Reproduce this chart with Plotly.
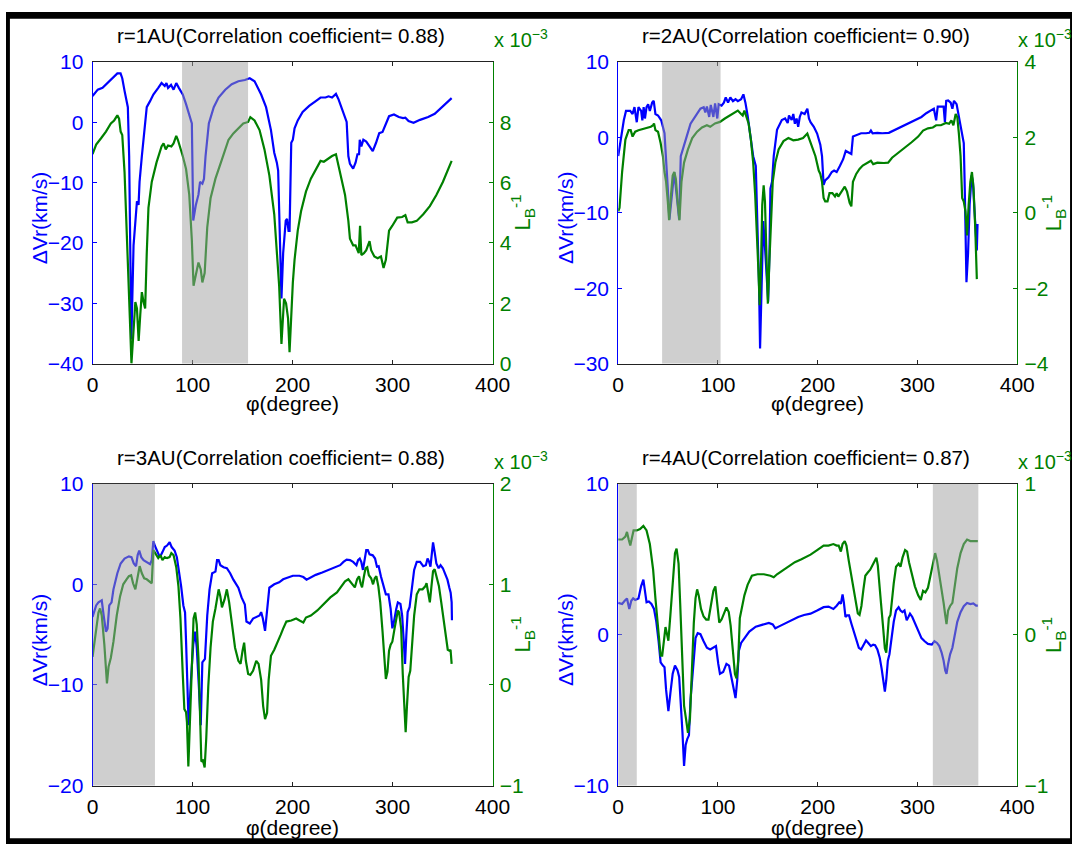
import plotly.graph_objects as go

# ---------------- data (phi in degrees, dVr in km/s, L_B^-1 in units of 1e-3) ----------------
titles = ["r=1AU(Correlation coefficient= 0.88)", "r=2AU(Correlation coefficient= 0.90)",
          "r=3AU(Correlation coefficient= 0.88)", "r=4AU(Correlation coefficient= 0.87)"]

left_ranges = [(-40, 10), (-30, 10), (-20, 10), (-10, 10)]
left_ticks = [[-40, -30, -20, -10, 0, 10], [-30, -20, -10, 0, 10], [-20, -10, 0, 10], [-10, 0, 10]]
right_ranges = [(0, 10), (-4, 4), (-1, 2), (-1, 1)]
right_ticks = [[0, 2, 4, 6, 8], [-4, -2, 0, 2, 4], [-1, 0, 1, 2], [-1, 0, 1]]
x_ticks = [0, 100, 200, 300, 400]
shaded = [[(89.5, 155.5)], [(44, 102.6)], [(0, 62.4)], [(0, 18.6), (315.4, 361)]]

dvr1 = [(0,4.35),(5.2,5.4),(10,5.7),(15,6.5),(18.3,7.0),(21.6,7.6),(24.8,8.1),(28,8.1),(29.7,7.3),(32,5.2),(34,3.5),(35.3,2.5),(36.6,-5.6),(38,-27),(38.8,-36),(41,-20.4),(43.8,-14.2),(44.4,-13.1),(46,-13.7),(47,-9.9),(49.3,-5.6),(54.2,2.5),(57.5,3.5),(60.8,4.6),(65.7,5.7),(69,6.5),(72.2,6.0),(73.9,6.5),(75.5,5.7),(78.5,6.2),(81,5.4),(83.7,6.5),(86.3,5.7),(90.2,4.6),(93.5,3.0),(97.4,0.6),(99.3,-0.2),(100.7,-16.3),(103.3,-13.7),(105.9,-12),(107.5,-9.9),(109.8,-10.2),(111.4,-9.4),(113,-5.6),(116.3,-0.2),(121.2,2.5),(126,4.1),(132.7,5.4),(139.2,6.3),(145.8,6.8),(152.3,7.0),(157.2,7.3),(162,6.8),(168.6,4.6),(173.5,2.5),(178.4,-1.3),(181.7,-5.05),(184.3,-6.7),(185.6,-8.0),(188.9,-29.2),(190.6,-21.7),(193.2,-16.3),(194.5,-16.0),(196,-18),(197,-18),(198.7,-3.4),(200.3,-2.9),(202,-1.0),(205.2,0.3),(210.1,1.7),(216.6,2.7),(223.2,3.5),(228,4.1),(233,4.1),(236,4.3),(239.5,4.1),(243.4,4.7),(246,3.8),(250.9,1.4),(254.1,0.05),(255.8,-5.6),(257.4,-6.9),(260.6,-7.7),(263,-6.7),(264.9,-5.3),(266.5,-5.3),(267.2,-2.9),(268.8,-4.0),(270.8,-2.9),(273.7,-3.2),(277,-4.0),(280.2,-4.8),(283.5,-3.4),(286.7,-1.8),(290,-1.6),(293.3,-0.2),(296.5,1.0),(301.4,1.3),(306.3,0.86),(310.5,0.7),(312.8,0.75),(316,0.2),(321,-0.1),(327.5,0.4),(335.6,0.86),(342.2,1.4),(348.7,2.4),(353.6,3.1),(359.1,4.0)]

lb1 = [(0,6.94),(3.6,7.26),(8.5,7.47),(13.4,7.69),(18.3,7.96),(21.6,8.06),(24.8,8.23),(26.5,8.12),(28.1,7.69),(29.7,7.58),(32,6.34),(34.6,4.19),(37.3,1.5),(38.9,0),(40.5,0.86),(42.8,2.04),(44.4,1.83),(46.1,0.75),(47.7,1.61),(49.3,2.37),(51,2.04),(52.6,1.83),(54.2,3.66),(55.9,5.16),(59.2,6.02),(64,6.67),(69,7.2),(71,7.3),(73.2,7.1),(75.5,7.23),(78.8,7.2),(81,7.3),(83.7,7.55),(85.3,7.42),(90.2,6.88),(93.5,6.45),(96.7,5.6),(99.3,4.09),(101,2.58),(103.3,2.9),(105.9,3.35),(108.2,3.12),(109.8,2.69),(112.1,3.0),(114.7,4.52),(118,5.48),(122.9,6.13),(129.4,6.77),(136,7.42),(140.8,7.63),(145.8,7.8),(150.7,7.96),(155.6,8.01),(157.8,8.17),(162,8.06),(167,7.74),(171.9,7.1),(176.8,6.24),(181.7,4.95),(186.6,2.58),(188.9,0.65),(190,1.5),(191.5,2.15),(193.5,2.0),(195.5,1.5),(197,0.38),(198.7,1.72),(200.3,2.69),(202,3.44),(205.2,4.41),(208.5,5.05),(213.4,5.7),(218.3,6.13),(223.2,6.45),(228,6.72),(231.3,6.69),(234.6,6.77),(239.5,6.88),(243.4,6.94),(245.3,6.67),(248.6,6.24),(252.5,5.59),(255.8,4.73),(257.4,4.14),(260.6,3.92),(263,3.92),(264.9,3.76),(266.2,3.66),(267.5,4.57),(268.8,3.6),(271.4,3.66),(273.7,3.76),(277,4.06),(278.6,3.76),(281.8,3.55),(285.1,3.49),(288.4,3.55),(291,3.17),(293.3,3.44),(296.5,4.41),(299.8,4.57),(304.7,4.84),(309.6,4.86),(312.8,4.92),(315.1,4.68),(319.3,4.68),(324.2,4.73),(330.7,4.95),(337.3,5.22),(343.8,5.59),(350.3,6.02),(355.2,6.4),(359.1,6.72)]

dvr2 = [(0,-2.47),(2.3,-0.3),(5.6,2.26),(7.8,3.5),(12,3.5),(14.4,3.1),(16.3,4.0),(18.6,2.0),(20.3,4.0),(23,3.5),(24.2,2.26),(25.5,4.0),(26.8,2.5),(28.4,4.0),(30,4.4),(31.7,3.5),(34,4.6),(35.6,4.84),(37.3,3.1),(39.9,2.9),(43.1,2.26),(46.4,0.54),(48,-2.47),(49.7,-6.8),(51.3,-10.9),(53.6,-7.6),(56.2,-4.6),(58.5,-7.6),(61.1,-10.9),(62.7,-2.5),(65.4,-1.2),(68.6,0.1),(72.5,1.8),(77.5,2.9),(82.4,3.8),(85.7,4.0),(87.3,3.3),(88.9,4.1),(91.2,2.7),(92.8,4.3),(95.4,2.7),(97.1,4.5),(99.3,2.5),(100.7,4.4),(103.6,4.2),(105.9,4.6),(107.8,5.3),(110.1,4.6),(112.4,5.3),(115,4.8),(117.6,5.05),(119.9,4.8),(123.2,5.05),(125.5,5.7),(127.5,4.6),(129.7,2.9),(133,0.1),(135.3,-2.5),(137.9,-3.8),(139.5,-11.1),(141.2,-19.7),(142.2,-28),(143.8,-19.7),(145.4,-11.1),(147.1,-14.5),(149.3,-19.7),(150.3,-21.8),(151.6,-15.4),(152.6,-6.8),(154.2,-5.9),(155.9,-2.5),(159.2,1.0),(164,2.3),(167.3,2.5),(169.9,1.9),(171.2,2.9),(173.9,2.3),(175.5,3.1),(177.1,1.8),(178.8,2.5),(180.4,1.4),(182,2.7),(183.7,3.3),(186.9,3.1),(189.6,3.8),(191.2,2.5),(192.8,2.0),(196.1,1.4),(199.4,0.5),(202.6,-0.97),(204.3,-2.5),(205.9,-6.3),(207.5,-5.7),(210.8,-5.3),(214.1,-4.6),(216.4,-4.4),(219,-4.6),(222.2,-3.8),(225.5,-2.9),(228.1,-1.8),(230.4,-2.0),(233.7,-2.2),(235.3,0.1),(238.6,0.3),(243.5,0.54),(248.4,0.54),(251.7,0.6),(253.3,0.9),(255,0.54),(259.8,0.6),(264.7,0.54),(271.3,0.6),(277.8,1.0),(284.3,1.4),(290.9,1.8),(297.4,2.26),(304,2.7),(308.8,3.2),(313.8,3.55),(316.4,3.8),(318.7,2.26),(320.3,4.06),(323.5,4.06),(326.2,4.06),(327.5,2.0),(328.8,4.84),(330.7,4.9),(333.3,4.6),(335,3.8),(336.6,4.84),(339.2,4.4),(341.5,2.7),(343.2,1.4),(344.8,0.1),(346.4,-0.75),(347.4,-6.8),(349.1,-19.2),(350.7,-15.4),(352.3,-8.9),(354.3,-5.05),(355.6,-5.9),(357.2,-9.8),(358.5,-14.1),(359.5,-15),(360.2,-11.5)]

lb2 = [(0,0.04),(1.3,0.13),(3.9,1.08),(7.2,1.94),(10.5,2.19),(12.5,2.19),(14.4,2.02),(17,2.15),(20.3,2.19),(23.5,2.21),(26.8,2.24),(30,2.26),(32.7,2.28),(35,2.32),(35.9,2.37),(37.3,2.19),(39.9,2.15),(42.5,1.85),(44.8,1.5),(46.4,1.08),(48,0.82),(49.7,0.3),(51,-0.2),(52.9,0.47),(54.6,0.99),(56.2,1.08),(57.8,0.9),(59.5,0.3),(61.4,-0.2),(63.4,0.82),(66,1.33),(69.9,1.68),(74.2,1.98),(79.1,2.15),(84,2.26),(88.9,2.32),(92.2,2.28),(97,2.37),(102,2.41),(106.9,2.5),(111.8,2.58),(116.7,2.67),(119.9,2.71),(123.2,2.62),(124.8,2.58),(126.5,2.71),(128.1,2.58),(130.7,2.37),(133,1.94),(135.3,1.33),(137.3,0.47),(138.9,-0.34),(140.5,-1.5),(141.8,-2.45),(143.1,-1.42),(144.4,0.21),(145.8,0.73),(147.1,0.3),(148.4,-1.08),(150,-2.41),(151.6,-1.25),(153.3,-0.22),(154.9,0.82),(157.5,1.33),(160.8,1.68),(165.7,1.9),(170.6,1.98),(175.5,1.92),(180.4,1.94),(185.3,1.98),(189.6,2.1),(191.2,1.98),(194.5,1.76),(197.7,1.5),(201,1.12),(202.6,1.03),(204.3,0.82),(205.9,0.39),(207.5,0.3),(209.8,0.3),(211.8,0.52),(214.7,0.52),(217.3,0.43),(219,0.52),(220.6,0.43),(223.9,0.56),(227.1,0.69),(229.4,0.56),(232,0.26),(233.7,0.17),(235.3,0.82),(238.6,1.03),(241.9,1.16),(245.1,1.25),(250,1.32),(253.3,1.38),(255.6,1.29),(259.8,1.33),(266.4,1.32),(270.6,1.33),(274.5,1.46),(281.1,1.59),(287.6,1.72),(294.1,1.87),(300.7,2.02),(305.6,2.18),(310.5,2.24),(315.4,2.26),(318.7,2.32),(323.5,2.32),(328.5,2.38),(331.7,2.36),(334,2.45),(336,2.32),(338.3,2.62),(339.9,2.54),(341.5,2.1),(343.2,1.5),(344.8,0.39),(346.4,0.3),(348.1,0.04),(349.7,-0.6),(351.3,0.21),(353,0.82),(354.6,1.08),(356.2,0.65),(357.9,-0.39),(359.5,-1.76)]

dvr3 = [(0,-3.25),(3.6,-2.1),(5.9,-1.8),(9.2,-1.6),(11.1,-3.1),(13.4,-4.7),(15,-4.4),(16.7,-2.1),(19,-1.8),(20.9,-0.5),(24.8,1.1),(28.1,2.07),(32,2.56),(36.3,2.78),(38.9,2.7),(41.2,2.07),(43.5,1.8),(45.1,2.9),(46.7,3.36),(48.7,2.7),(51,2.4),(54.2,2.23),(57.5,2.0),(59.2,2.4),(60.8,4.3),(62.4,3.8),(64.7,3.2),(67.3,2.7),(69.9,3.2),(72.2,3.7),(74.5,3.85),(77.1,4.2),(79.1,3.7),(82,3.36),(84.3,2.7),(86.3,1.43),(88.6,-0.2),(90.8,-2.1),(92.5,-2.8),(93.5,-5.66),(94.8,-11.5),(96.1,-14),(98.4,-9.5),(100.7,-6),(102.6,-4.7),(104.2,-6.3),(106.5,-10.5),(108.2,-14),(109.8,-7.75),(112.4,-7.4),(114.7,-3.1),(117,-0.5),(119.6,1.1),(122.9,1.26),(124.5,2.4),(126.1,2.4),(127.8,1.9),(131,1.7),(134.3,1.6),(137.6,1.1),(140.8,0.46),(145.8,-0.34),(149,-1.3),(152.3,-2.0),(153.9,-3.7),(157.2,-3.9),(160.5,-3.4),(163.7,-3.25),(167,-3.1),(168.6,-2.76),(170.3,-3.4),(172.5,-4.63),(174.5,-2.4),(176.8,-0.34),(181.7,0),(186.6,0.2),(190.6,0.5),(193.8,0.62),(200.3,0.85),(206.9,0.85),(210.8,0.72),(214,0.46),(218.3,0.72),(223.2,0.94),(229.7,1.17),(236.2,1.43),(242.7,1.65),(247.6,1.9),(250.9,2.23),(254.1,2.46),(257.4,2.4),(260.6,2.23),(263.9,1.9),(265.5,2.4),(267.2,2.56),(268.8,2.2),(270.4,1.43),(272.1,2.4),(273.7,3.4),(275.3,3.4),(277,2.97),(280.2,2.88),(282.5,2.56),(284.4,1.75),(286.1,1.8),(288.4,0.78),(291,-0.18),(293.3,-1.0),(295.9,-1.0),(298.1,-2.44),(299.8,-4.37),(301.4,-3.73),(303.7,-2.44),(305.3,-1.8),(307.9,-1.96),(309.6,-3.1),(311.2,-5.66),(312.5,-7.9),(313.8,-5.0),(315.1,-2.76),(317,-2.28),(319.3,-0.18),(321.6,1.43),(324.2,2.23),(327.5,2.23),(330.7,1.8),(333.3,1.9),(335,2.56),(336.6,2.23),(337.9,1.75),(339.2,3.36),(340.5,4.17),(342.1,3.2),(343.8,2.07),(346.1,1.6),(348,1.9),(350.3,1.6),(352.6,1.1),(354.9,0.46),(356.8,-0.34),(358.1,-0.83),(359.1,-1.8),(359.4,-3.57)]

lb3 = [(0,0.28),(3.6,0.53),(5.9,0.72),(7.5,0.76),(9.2,0.69),(11.8,0.4),(14.4,0.015),(16,0.18),(18.3,0.27),(20.9,0.43),(24.2,0.69),(27.5,0.88),(30.7,1.0),(34,1.05),(36.3,1.08),(38.6,1.09),(40.5,1.01),(42.8,0.95),(45.1,1.09),(47.1,1.18),(49.3,1.11),(51.6,1.06),(54.2,1.05),(56.9,1.03),(59.2,1.01),(60.8,1.34),(63.1,1.3),(65.7,1.26),(68,1.29),(69.9,1.24),(72.2,1.27),(74.5,1.26),(77,1.27),(78.8,1.31),(81,1.29),(83.7,1.17),(85.9,0.98),(87.9,0.66),(90.2,0.11),(91.8,-0.24),(93.5,-0.27),(94.4,-0.37),(95.8,-0.81),(97.4,-0.34),(99.3,0.37),(101,0.66),(102.6,0.72),(104.2,0.6),(105.9,0.27),(107.5,-0.47),(108.8,-0.76),(110.4,-0.75),(112.1,-0.82),(113.7,-0.53),(115.7,-0.02),(118,0.37),(120.3,0.63),(122.9,0.76),(124.5,0.85),(126.1,0.95),(127.8,0.88),(129.4,0.77),(132,0.85),(134.3,0.95),(136.6,0.82),(139.2,0.63),(142.5,0.37),(145.8,0.24),(148,0.21),(150,0.34),(151.6,0.42),(153.3,0.24),(155.6,0.11),(157.8,0.1),(160.5,0.14),(163.7,0.24),(166,0.21),(168.6,0.05),(170.6,-0.21),(172.5,-0.34),(174.5,-0.28),(176.1,0.05),(178.4,0.29),(181.7,0.35),(185,0.42),(188.2,0.5),(190.6,0.56),(193.8,0.63),(198.7,0.64),(203.6,0.66),(207,0.64),(210.8,0.62),(213.4,0.67),(218.3,0.69),(224.8,0.74),(231.3,0.8),(237.8,0.87),(244.4,0.92),(249.2,0.98),(252.5,1.03),(255.8,1.05),(259,1.01),(262.3,0.97),(264.6,1.05),(266.5,1.08),(268,1.01),(269.5,0.97),(271.4,1.08),(273,1.16),(274.7,1.17),(276.3,1.09),(278.6,1.06),(280.5,1.0),(282.2,1.06),(283.8,1.08),(285.8,0.98),(287.7,0.82),(290,0.53),(291.6,0.24),(293.3,0.06),(294.9,0.13),(296.5,0.34),(298.1,0.4),(299.8,0.43),(302,0.56),(304,0.66),(305.3,0.74),(306.6,0.72),(308.6,0.56),(310.2,0.11),(311.8,-0.28),(313.1,-0.47),(314.4,-0.21),(316.1,0.08),(317.7,0.14),(319.3,0.37),(321.6,0.69),(324.2,0.9),(326.8,0.95),(330,0.95),(332.7,0.98),(334,1.01),(335.6,0.92),(337.3,0.82),(338.9,0.98),(340.5,1.13),(342.1,1.15),(343.8,1.09),(346.4,0.98),(348.7,0.82),(351.3,0.63),(353.6,0.47),(355.2,0.35),(356.8,0.34),(358,0.35),(359.1,0.21)]

dvr4 = [(0,2.1),(3.9,2.03),(6.5,2.24),(8.8,2.4),(11.1,1.7),(13.1,2.24),(15,2.4),(17,2.3),(20.3,2.4),(22.9,3.2),(25.2,3.64),(26.8,3.0),(28.4,2.14),(30.7,2.2),(33.3,2.03),(35.9,1.7),(38.2,0.85),(40.5,-0.44),(42.5,-1.84),(44.8,-2.05),(46.4,-2.16),(48,-3.66),(50.3,-5.06),(52.3,-3.88),(54.6,-2.59),(56.9,-2.05),(59.5,-2.37),(61.1,-2.8),(62.7,-4.3),(64.4,-6.46),(66,-8.7),(67.6,-7.3),(69.3,-6.9),(70.9,-6.67),(72.5,-4.3),(75.2,-1.73),(77.5,-0.23),(79.7,0.1),(82.4,0.03),(85.6,-0.44),(88.9,-0.87),(92.2,-0.98),(95.4,-0.87),(98,-0.76),(100.3,-1.94),(102,-2.59),(105.2,-2.48),(108.5,-1.94),(111.1,-2.05),(113.4,-2.8),(115.7,-3.66),(117.6,-4.2),(119.3,-3.02),(120.9,-1.08),(123.2,-0.55),(126.5,-0.23),(131.4,0.2),(137.9,0.53),(144.4,0.68),(151,0.78),(154.9,0.68),(157.5,0.42),(160.8,0.53),(167.3,0.74),(173.9,0.96),(180.4,1.17),(186.3,1.3),(192.8,1.39),(199.4,1.6),(205.9,1.82),(210.8,1.86),(215.7,1.7),(219,1.92),(221.6,2.14),(223.2,2.05),(224.9,2.67),(226.2,2.14),(227.8,1.17),(229.4,1.27),(231.4,1.27),(233.7,0.74),(236,0.2),(238.6,-0.44),(241.2,-0.87),(243.5,-0.98),(245.8,-0.66),(248.4,-0.38),(250.7,-0.55),(253.3,-0.76),(255.6,-0.66),(257.5,-0.7),(259.8,-0.98),(262.1,-1.51),(264.1,-2.27),(265.7,-3.02),(267.3,-3.77),(268.7,-3.02),(270.3,-1.73),(271.9,-1.3),(273.9,-0.23),(276.2,0.85),(278.5,1.6),(281.1,1.82),(283,1.6),(285,1.49),(287,1.6),(289.2,0.96),(290.9,1.17),(292.5,1.39),(294.8,1.17),(297.4,0.74),(300.7,0.2),(304,-0.23),(307.2,-0.44),(310.5,-0.61),(314.4,-0.66),(317,-0.44),(319.6,-0.55),(321.9,-0.76),(324.2,-1.19),(326.2,-1.73),(327.8,-2.37),(329.1,-2.59),(330.7,-1.94),(332.7,-1.3),(335,-0.87),(337.3,0),(339.9,0.85),(343.2,1.49),(346.4,1.88),(349.7,2.1),(353,2.03),(356,2.07),(358.8,1.92),(360.5,1.92)]

lb4 = [(0,0.63),(3.9,0.63),(7.2,0.65),(8.8,0.68),(10.5,0.63),(12.1,0.59),(13.7,0.64),(15.4,0.69),(18.6,0.69),(21.9,0.70),(25.2,0.72),(28.4,0.69),(31.7,0.6),(35,0.43),(37.3,0.24),(39.9,0.02),(42.5,-0.14),(44.1,-0.14),(45.8,-0.04),(47.4,0.05),(49,0),(50.3,-0.04),(52.3,0.13),(54.6,0.34),(56.9,0.54),(58.5,0.57),(60.5,0.47),(62.1,0.21),(64,-0.17),(66,-0.47),(68,-0.56),(69.9,-0.65),(71.9,-0.56),(73.5,-0.26),(75.8,0.08),(77.5,0.24),(79.1,0.3),(80.7,0.26),(83,0.17),(85.6,0.12),(88.2,0.1),(90.5,0.1),(92.8,0.19),(95.4,0.29),(97.4,0.32),(99.3,0.22),(101.3,0.08),(103.6,0.1),(106.2,0.14),(108.5,0.18),(110.8,0.15),(112.7,0.06),(115,-0.11),(117,-0.26),(118.6,-0.29),(120.3,-0.17),(121.9,0.11),(123.9,0.17),(126.5,0.26),(129.7,0.33),(134,0.39),(139.5,0.4),(146,0.4),(152.6,0.39),(155.9,0.38),(159.2,0.4),(164,0.42),(170.6,0.45),(177.1,0.48),(183.7,0.5),(189.5,0.52),(192.8,0.53),(199.4,0.56),(205.9,0.59),(210.8,0.59),(215.7,0.6),(219,0.59),(221,0.59),(223.2,0.55),(224.9,0.6),(227.1,0.62),(228.8,0.59),(231.1,0.49),(233.7,0.39),(236,0.28),(238.6,0.18),(240.2,0.14),(241.9,0.13),(243.8,0.19),(245.8,0.3),(247.7,0.39),(250,0.41),(252.6,0.43),(254.9,0.46),(257.5,0.5),(258.8,0.51),(260.2,0.46),(261.5,0.34),(263.4,0.21),(265.4,0.06),(267.3,-0.09),(268.7,-0.12),(270,-0.02),(271.3,0.11),(272.9,0.13),(274.5,0.24),(276.2,0.34),(278.5,0.45),(281.1,0.47),(283,0.45),(285,0.51),(287.6,0.56),(289.6,0.55),(291.5,0.48),(294.1,0.4),(297.4,0.32),(300.7,0.26),(303.3,0.23),(305.6,0.29),(307.9,0.28),(310.5,0.31),(313.1,0.39),(315.4,0.48),(317.7,0.54),(319.6,0.49),(321.9,0.39),(324.2,0.32),(326.2,0.21),(327.8,0.13),(329.1,0.07),(330.7,0.16),(332.7,0.19),(335,0.21),(337.3,0.32),(339.9,0.44),(343.2,0.54),(346.4,0.6),(349.7,0.63),(353,0.62),(356.5,0.62),(360.5,0.62)]

dvr_series = [dvr1, dvr2, dvr3, dvr4]
lb_series = [lb1, lb2, lb3, lb4]

# ---------------- layout geometry (pixels) ----------------
W, H = 1090, 855
BLUE = "#0000ff"
GREEN = "#008000"
FONT = "Liberation Sans, Arial, Helvetica, sans-serif"
boxes = [(88.5, 497.5, 51.3, 361.3), (626, 1034, 51.3, 361.3),
         (88.5, 497.5, 484.7, 795), (626, 1034, 484.7, 795)]
rlabel_dx = [31, 37, 31, 37]
xlabel_dy = [41, 41, 43, 43]


def fx(px):
    return px / W


def fy(py):
    return 1 - py / H


fig = go.Figure()
layout = dict(width=W, height=H, margin=dict(l=0, r=0, t=0, b=0),
              paper_bgcolor="white", plot_bgcolor="white", showlegend=False,
              font=dict(family=FONT, color="black", size=20))
annotations = []
shapes = []

for i in range(4):
    k = i + 1
    kr = i + 5
    x0, x1, y0, y1 = boxes[i]
    xa = "xaxis" if k == 1 else f"xaxis{k}"
    ya = "yaxis" if k == 1 else f"yaxis{k}"
    yr = f"yaxis{kr}"
    xref = "x" if k == 1 else f"x{k}"
    yref = "y" if k == 1 else f"y{k}"
    yrref = f"y{kr}"

    layout[xa] = dict(domain=[fx(x0), fx(x1)], range=[0, 400], tickvals=x_ticks,
                      ticks="inside", ticklen=4, tickcolor="#222", showline=True,
                      linecolor="#222", linewidth=1, mirror="ticks", showgrid=False,
                      zeroline=False, anchor=yref, ticklabelstandoff=2,
                      tickfont=dict(size=21, color="black", family=FONT))
    lo, hi = left_ranges[i]
    layout[ya] = dict(domain=[fy(y1), fy(y0)], range=[lo, hi], tickvals=left_ticks[i],
                      ticks="inside", ticklen=4, tickcolor=BLUE, showline=True,
                      linecolor=BLUE, linewidth=1, showgrid=False, zeroline=False,
                      anchor=xref, ticklabelstandoff=4,
                      tickfont=dict(size=21, color=BLUE, family=FONT))
    rlo, rhi = right_ranges[i]
    layout[yr] = dict(overlaying=yref, side="right", range=[rlo, rhi],
                      tickvals=right_ticks[i], ticks="inside", ticklen=4,
                      tickcolor=GREEN, showline=True, linecolor=GREEN, linewidth=1,
                      showgrid=False, zeroline=False, anchor=xref, ticklabelstandoff=2,
                      tickfont=dict(size=21, color=GREEN, family=FONT))

    phi_b = [p for p, v in dvr_series[i]]
    val_b = [v for p, v in dvr_series[i]]
    phi_g = [p for p, v in lb_series[i]]
    val_g = [v for p, v in lb_series[i]]
    fig.add_trace(go.Scatter(x=phi_b, y=val_b, mode="lines", xaxis=xref, yaxis=yref,
                             line=dict(color=BLUE, width=2.2)))
    fig.add_trace(go.Scatter(x=phi_g, y=val_g, mode="lines", xaxis=xref, yaxis=yrref,
                             line=dict(color=GREEN, width=2.2)))

    for (a, b) in shaded[i]:
        shapes.append(dict(type="rect", xref=xref, yref=f"{yref} domain", x0=a, x1=b,
                           y0=0, y1=1, fillcolor="rgb(160,160,160)", opacity=0.5,
                           line=dict(width=0), layer="above"))

    # title
    annotations.append(dict(text=titles[i], x=fx((x0 + x1) / 2 - 12), y=fy(y0 - 27),
                            xref="paper", yref="paper", xanchor="center", yanchor="middle",
                            showarrow=False, font=dict(size=20.5, color="black", family=FONT)))
    # x 10^-3
    annotations.append(dict(text="x 10<sup>\u22123</sup>", x=fx(x1 - 1), y=fy(y0 - 9),
                            xref="paper", yref="paper", xanchor="left", yanchor="bottom",
                            showarrow=False, font=dict(size=20, color=GREEN, family=FONT)))
    # x label
    annotations.append(dict(text="\u03c6(degree)", x=fx((x0 + x1) / 2), y=fy(y1 + xlabel_dy[i]),
                            xref="paper", yref="paper", xanchor="center", yanchor="middle",
                            showarrow=False, font=dict(size=21, color="black", family=FONT)))
    # left y label
    annotations.append(dict(text="\u0394Vr(km/s)", x=fx(x0 - 54), y=fy((y0 + y1) / 2 + 5),
                            xref="paper", yref="paper", xanchor="center", yanchor="middle",
                            textangle=-90, showarrow=False,
                            font=dict(size=21, color=BLUE, family=FONT)))
    # right y label
    annotations.append(dict(text="L<sub>B</sub><sup>-1</sup>", x=fx(x1 + rlabel_dx[i]),
                            y=fy((y0 + y1) / 2), xref="paper", yref="paper",
                            xanchor="center", yanchor="middle", textangle=-90,
                            showarrow=False, font=dict(size=22, color=GREEN, family=FONT)))

# thin dark frame seen around the reference picture
for (a, b, c, d) in [(0, W, 0, 7), (0, 4, 0, H), (0, W, H - 6, H), (W - 2, W, 0, H)]:
    shapes.append(dict(type="rect", xref="paper", yref="paper", x0=fx(a), x1=fx(b),
                       y0=fy(d), y1=fy(c), fillcolor="black", line=dict(width=0),
                       layer="above"))

layout["annotations"] = annotations
layout["shapes"] = shapes
fig.update_layout(**layout)
fig.write_html("out.html", config={"displayModeBar": False},
               post_script="document.body.style.margin='0';document.body.style.padding='0';"
                           "document.documentElement.style.overflow='hidden';"
                           "document.body.style.overflow='hidden';")
